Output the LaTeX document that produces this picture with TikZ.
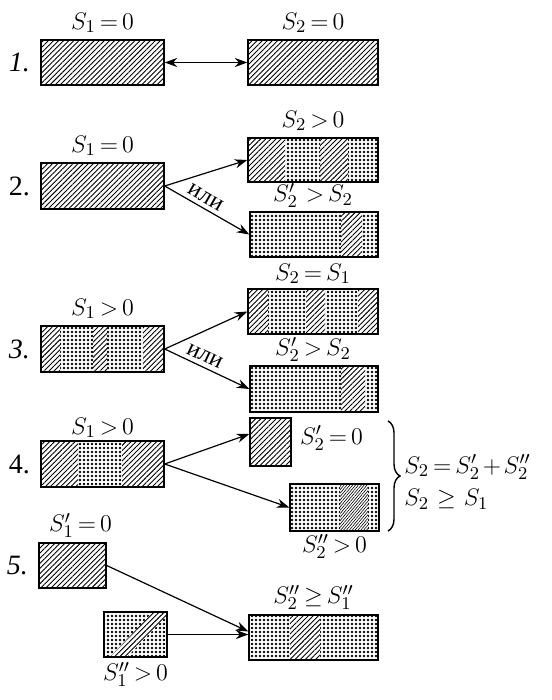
\documentclass[tikz,border=0pt]{standalone}
\usepackage{fontspec}
\setmainfont{Liberation Serif}
\usetikzlibrary{arrows.meta,positioning,patterns.meta,decorations.pathreplacing}
\thickmuskip=3mu plus 2mu
\medmuskip=2mu plus 1mu

\begin{document}
\begin{tikzpicture}[
    x=0.5pt, y=-0.5pt,
    every node/.style={font=\fontsize{13}{15}\selectfont, inner sep=1pt},
    box/.style={draw=black, line width=0.7pt, inner sep=0pt, minimum height=22.5pt},
    hatchfill/.style={pattern={Lines[angle=45, distance=1.8pt, line width=0.45pt]}},
    finehatch/.style={pattern={Lines[angle=50, distance=1.1pt, line width=0.3pt]}},
    dotfill/.style={pattern={Dots[distance=2pt, radius=0.65pt]}},
    num/.style={font=\fontsize{14}{16}\selectfont},
    ili/.style={font=\fontsize{12}{14}\selectfont, inner sep=0pt},
    arr/.style={-{Stealth[length=2.2mm, width=1.6mm]}, line width=0.6pt},
    darr/.style={{Stealth[length=2.2mm, width=1.6mm]}-{Stealth[length=2.2mm, width=1.6mm]}, line width=0.6pt}
]
    \useasboundingbox (0,0) rectangle (551,700);

    % 1.
    \fill[hatchfill] (41,40) rectangle (164,85);
    \fill[hatchfill] (248,40) rectangle (378,85);
    \node[box, minimum width=61.5pt] (s1a) at (102.5,62.5) {};
    \node[box, minimum width=65pt] (s1b) at (313,62.5) {};
    \node[above=2pt of s1a] {$S_1 = 0$};
    \node[above=2pt of s1b] {$S_2 = 0$};
    \node[num, left=4pt of s1a] {\textit{1.}};
    \draw[darr] (s1a) -- (s1b);

    % 2.
    \fill[hatchfill] (41,163) rectangle (164,209);
    \fill[hatchfill] (248,138) rectangle (285,182);
    \fill[dotfill] (285,138) rectangle (320,182);
    \fill[hatchfill] (320,138) rectangle (348,182);
    \fill[dotfill] (348,138) rectangle (378,182);
    \fill[dotfill] (250,212) rectangle (341,257);
    \fill[hatchfill] (341,212) rectangle (362,257);
    \fill[dotfill] (362,212) rectangle (378,257);
    \node[box, minimum width=61.5pt, minimum height=23pt] (s2a) at (102.5,186) {};
    \node[box, minimum width=65pt, minimum height=22pt] (s2b) at (313,160) {};
    \node[box, minimum width=64pt] (s2c) at (314,234.5) {};
    \node[above=2pt of s2a] {$S_1 = 0$};
    \node[above=2pt of s2b] {$S_2 > 0$};
    \node[below=0pt of s2b, inner sep=0pt] {$S_2' \; > S_2$};
    \node[num, left=4pt of s2a] {2.};
    \draw[arr] (s2a.east) -- (s2b.west);
    \draw[arr] (s2a.east) -- node[ili, sloped, above=2pt, pos=0.42] {или} (s2c.west);

    % 3.
    \fill[hatchfill] (41,326) rectangle (60,372);
    \fill[dotfill] (60,326) rectangle (93,372);
    \fill[hatchfill] (93,326) rectangle (107,372);
    \fill[dotfill] (107,326) rectangle (143,372);
    \fill[hatchfill] (143,326) rectangle (164,372);
    \fill[hatchfill] (248,289) rectangle (268,334);
    \fill[dotfill] (268,289) rectangle (306,334);
    \fill[hatchfill] (306,289) rectangle (325,334);
    \fill[dotfill] (325,289) rectangle (358,334);
    \fill[hatchfill] (358,289) rectangle (378,334);
    \fill[dotfill] (250,366) rectangle (341,412);
    \fill[hatchfill] (341,366) rectangle (365,412);
    \fill[dotfill] (365,366) rectangle (378,412);
    \node[box, minimum width=61.5pt, minimum height=23pt] (s3a) at (102.5,349) {};
    \node[box, minimum width=65pt] (s3b) at (313,311.5) {};
    \node[box, minimum width=64pt, minimum height=23pt] (s3c) at (314,389) {};
    \node[above=2pt of s3a] {$S_1 > 0$};
    \node[above=1pt of s3b] {$S_2 = S_1$};
    \node[below=1pt of s3b, inner sep=0pt] {$S_2' > S_2$};
    \node[num, left=4pt of s3a] {\textit{3.}};
    \draw[arr] (s3a.east) -- (s3b.west);
    \draw[arr] (s3a.east) -- node[ili, sloped, above=2pt, pos=0.42] {или} (s3c.west);

    % 4.
    \fill[hatchfill] (41,441) rectangle (78,487);
    \fill[dotfill] (78,441) rectangle (122,487);
    \fill[hatchfill] (122,441) rectangle (164,487);
    \fill[hatchfill] (250,418) rectangle (291,466);
    \fill[dotfill] (290,484) rectangle (340,531);
    \fill[finehatch] (340,484) rectangle (368,531);
    \fill[dotfill] (368,484) rectangle (379,531);
    \node[box, minimum width=61.5pt, minimum height=23pt] (s4a) at (102.5,464) {};
    \node[box, minimum width=20.5pt, minimum height=24pt] (s4b) at (270.5,442) {};
    \node[box, minimum width=44.5pt, minimum height=23.5pt] (s4c) at (334.5,507.5) {};
    \node[above=0pt of s4a] {$S_1 > 0$};
    \node[right=3pt of s4b, yshift=2pt] {$S_2' = 0$};
    \node[below=0pt of s4c] {$S_2'' > 0$};
    \node[num, left=4pt of s4a] {4.};
    \draw[arr] (s4a.east) -- ([yshift=4pt]s4b.west);
    \draw[arr] (s4a.east) -- (s4c.west);
    \draw[line width=0.7pt, decorate, decoration={brace, amplitude=6pt}] (388,421) -- (388,531);
    \node[anchor=west] (eq1) at (402,467) {$S_2 = S_2' + S_2''$};
    \node[anchor=west] (eq2) at (402,499) {$S_2 \;\geq\; S_1$};

    % 5.
    \fill[hatchfill] (39,543) rectangle (106,588);
    \fill[dotfill] (104,612) rectangle (167,657);
    \fill[white] (110,657) -- (127,657) -- (167,615) -- (167,612) -- (153,612) -- cycle;
    \fill[hatchfill] (110,657) -- (127,657) -- (167,615) -- (167,612) -- (153,612) -- cycle;
    \fill[dotfill] (249,615) rectangle (290,660);
    \fill[hatchfill] (290,615) rectangle (320,660);
    \fill[dotfill] (320,615) rectangle (378,660);
    \node[box, minimum width=33.5pt] (s5a) at (72.5,565.5) {};
    \node[box, minimum width=31.5pt] (s5b) at (135.5,634.5) {};
    \node[box, minimum width=64.5pt] (s5c) at (313.5,637.5) {};
    \node[above=1pt of s5a, xshift=4pt] {$S_1' = 0$};
    \node[below=1pt of s5b] {$S_1'' > 0$};
    \node[above=1pt of s5c] {$S_2'' \geq S_1''$};
    \node[num, left=4pt of s5a] {\textit{5.}};
    \draw[arr] (s5a.east) -- ([yshift=3pt]s5c.west);
    \draw[arr] (s5b.east) -- (s5b.east -| s5c.west);
\end{tikzpicture}
\end{document}
